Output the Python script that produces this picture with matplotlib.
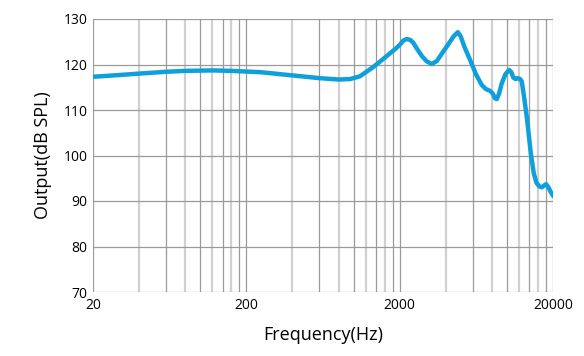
import numpy as np
import matplotlib
matplotlib.use("Agg")
import matplotlib.pyplot as plt

plt.rcParams["font.family"] = ["Open Sans", "DejaVu Sans"]

freq = [20, 30, 40, 60, 80, 120, 160, 250, 400, 600, 800, 950, 1100, 1340, 1600,
        1870, 2000, 2120, 2225, 2350, 2450, 2600, 2800, 3000, 3240, 3500, 3840,
        4200, 4500, 4790, 5000, 5300, 5760, 6300, 6860, 7300, 7780, 8100, 8350,
        8600, 8900, 9270, 9800, 10350, 10700, 11040, 11400, 11790, 12200, 12510,
        13000, 13490, 14330, 15000, 15600, 16300, 16900, 17500, 18030, 18700,
        19300, 20000]
spl = [117.3, 117.7, 118.0, 118.4, 118.6, 118.7, 118.6, 118.3, 117.6, 117.0, 116.7,
       116.8, 117.4, 119.4, 121.5, 123.4, 124.3, 125.3, 125.6, 125.4, 124.8, 123.4,
       121.8, 120.7, 120.1, 120.8, 122.8, 124.7, 126.2, 127.1, 126.2, 123.8, 121.0,
       117.8, 115.5, 114.6, 114.2, 113.6, 112.6, 112.4, 113.6, 115.9, 117.9, 118.8,
       118.3, 117.1, 116.8, 117.0, 116.8, 116.3, 112.5, 108.5, 100.5, 96.0, 94.0,
       93.2, 93.0, 93.4, 93.7, 93.0, 92.0, 91.2]

yticks = [70, 80, 90, 100, 110, 120, 130]
xticks = [20, 200, 2000, 20000]

fig = plt.figure(figsize=(5.84, 3.56), dpi=100)
ax = fig.add_axes([93/584, (356-292)/356, (553-93)/584, (292-19)/356])

# vertical grid at 20*k per decade, alternating shades
for dec in [20, 200, 2000]:
    for k in range(1, 11):
        f = dec * k
        if k == 10 and dec != 2000:
            continue
        if k % 2 == 0 and k != 10:
            ax.axvline(f, color="#d0d0d0", lw=1.6, zorder=1)
        else:
            ax.axvline(f, color="#9a9a9a", lw=0.9, zorder=1)
for y in yticks:
    ax.axhline(y, color="#9a9a9a", lw=0.9, zorder=1)

ax.plot(freq, spl, color="#0fa0dc", lw=3.2, solid_joinstyle="round", zorder=3)

ax.set_xscale("log")
ax.set_xlim(20, 20000)
ax.set_ylim(70, 130)
ax.set_xticks(xticks)
ax.set_xticklabels([str(x) for x in xticks])
ax.xaxis.set_minor_locator(matplotlib.ticker.NullLocator())
ax.set_yticks(yticks)
ax.tick_params(length=0, labelsize=10, pad=4)
for s in ax.spines.values():
    s.set_visible(False)

ax.set_xlabel("Frequency(Hz)", fontsize=13, labelpad=10)
ax.set_ylabel("Output(dB SPL)", fontsize=13, labelpad=8)

fig.savefig("out.png", dpi=100)
